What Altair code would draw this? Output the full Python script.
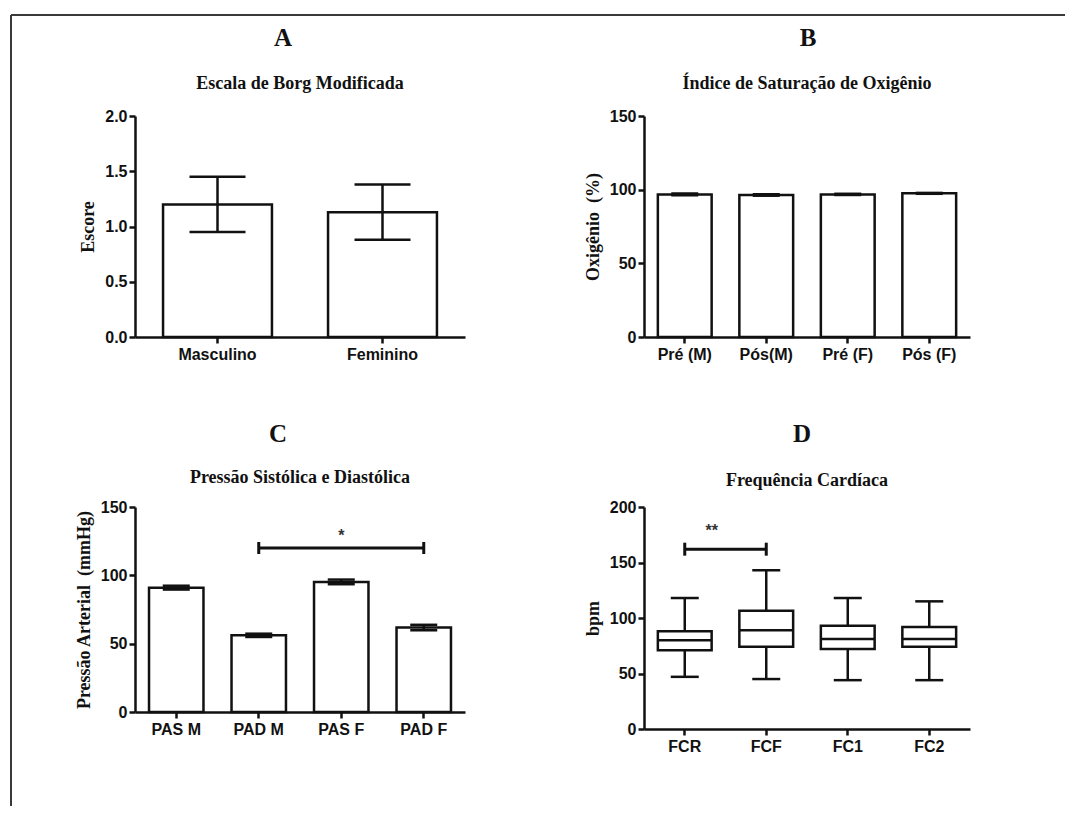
import altair as alt
import pandas as pd

SERIF = "Liberation Serif"
SANS = "Liberation Sans"
INK = "#111111"

# ---- Panel A: Escala de Borg Modificada (mean ± SEM)
A_cats = ["Masculino", "Feminino"]
A_mean = [1.20, 1.13]
A_sem = [0.25, 0.25]

# ---- Panel B: Índice de Saturação de Oxigênio
B_cats = ["Pré (M)", "Pós(M)", "Pré (F)", "Pós (F)"]
B_mean = [96.8, 96.4, 96.8, 97.5]
B_sem = [0.6, 0.5, 0.4, 0.3]

# ---- Panel C: Pressão Sistólica e Diastólica
C_cats = ["PAS M", "PAD M", "PAS F", "PAD F"]
C_mean = [91.0, 56.1, 95.2, 61.8]
C_sem = [1.4, 1.2, 1.7, 2.0]
C_sig_from = ["PAD M"]
C_sig_to = ["PAD F"]
C_sig_y = [120]
C_sig_label = ["*"]
C_sig_label_at = ["PAS F"]
C_sig_label_y = [132]

# ---- Panel D: Frequência Cardíaca (box plot)
D_cats = ["FCR", "FCF", "FC1", "FC2"]
D_min = [47, 45, 44, 44]
D_q1 = [71, 74, 72, 74]
D_med = [80, 89, 81, 81]
D_q3 = [88, 106.5, 93, 92]
D_max = [118, 143, 118, 115]
D_sig_from = ["FCR"]
D_sig_to = ["FCF"]
D_sig_y = [162]
D_sig_label = ["**"]
D_sig_label_at = ["FCR"]
D_sig_label_y = [182]

W1, W2 = 330, 326
H_TOP, H_C, H_D = 221, 205, 222
PAD_IN = 0.34
LW = 2.5


def xenc(cats, field="cat", **kw):
    return alt.X(f"{field}:N", sort=cats, title=None,
                 scale=alt.Scale(domain=cats, paddingInner=PAD_IN, paddingOuter=PAD_IN / 2), **kw)


def text_layer(txt, lx, ly, size, font=SERIF):
    return alt.Chart(pd.DataFrame({"t": [txt]})).mark_text(
        font=font, fontSize=size, fontWeight="bold", color=INK,
        align="center", baseline="middle"
    ).encode(x=alt.value(lx), y=alt.value(ly), text="t:N")


def sig_layers(cats, frm, to, yv, label, label_at, label_y, label_band, ydom, height, cap_px):
    ysc = alt.Scale(domain=ydom, nice=False)
    df = pd.DataFrame({"from": frm, "to": to, "y": yv})
    line = alt.Chart(df).mark_rule(color=INK, strokeWidth=3).encode(
        x=xenc(cats, "from", bandPosition=0.5),
        x2=alt.X2("to", bandPosition=0.5),
        y=alt.Y("y:Q", scale=ysc),
    )
    half = cap_px / 2 * (ydom[1] - ydom[0]) / height  # half cap length in data units
    ends = pd.DataFrame({"cat": frm + to, "y": yv + yv})
    caps = alt.Chart(ends).transform_calculate(
        y0=f"datum.y - {half}", y1=f"datum.y + {half}"
    ).mark_rule(color=INK, strokeWidth=3).encode(
        x=xenc(cats, bandPosition=0.5),
        y=alt.Y("y0:Q", scale=ysc),
        y2="y1:Q",
    )
    tdf = pd.DataFrame({"cat": label_at, "y": label_y, "t": label})
    txt = alt.Chart(tdf).mark_text(font=SANS, fontSize=16, fontWeight="bold", color="#333333",
                                   baseline="middle", dy=4).encode(
        x=xenc(cats, bandPosition=label_band),
        y=alt.Y("y:Q", scale=ysc),
        text="t:N",
    )
    return [line, caps, txt]


def bar_panel(cats, mean, sem, ydom, yvals, yfmt, ytitle, width, height, cap, extra=None):
    df = pd.DataFrame({
        "cat": cats,
        "mean": mean,
        "lo": [m - s for m, s in zip(mean, sem)],
        "hi": [m + s for m, s in zip(mean, sem)],
    })
    ysc = alt.Scale(domain=ydom, nice=False, zero=True)
    base = alt.Chart(df)
    bars = base.mark_bar(fill="white", stroke=INK, strokeWidth=LW).encode(
        x=xenc(cats),
        y=alt.Y("mean:Q", scale=ysc, title=ytitle,
                axis=alt.Axis(values=yvals, format=yfmt)),
    )
    stem = base.mark_rule(color=INK, strokeWidth=LW).encode(
        x=xenc(cats), y=alt.Y("lo:Q", scale=ysc, title=ytitle), y2="hi:Q")
    cap_hi = base.mark_tick(color=INK, thickness=LW, size=cap, opacity=1).encode(
        x=xenc(cats), y=alt.Y("hi:Q", scale=ysc, title=ytitle))
    cap_lo = base.mark_tick(color=INK, thickness=LW, size=cap, opacity=1).encode(
        x=xenc(cats), y=alt.Y("lo:Q", scale=ysc, title=ytitle))
    layers = [bars, stem, cap_hi, cap_lo] + (extra or [])
    return alt.layer(*layers).properties(width=width, height=height)


# Border of the figure (decoration, pixel positions relative to panel A)
border_df = pd.DataFrame({"k": [0]})
border_left = alt.Chart(border_df).mark_rule(color="#3a3a3a", strokeWidth=2).encode(
    x=alt.value(-124), y=alt.value(-101), y2=alt.value(690))
border_top = alt.Chart(border_df).mark_rule(color="#3a3a3a", strokeWidth=2).encode(
    x=alt.value(-124), x2=alt.value(930), y=alt.value(-101))

panelA = bar_panel(A_cats, A_mean, A_sem, [0, 2], [0, 0.5, 1.0, 1.5, 2.0], ".1f",
                   "Escore", W1, H_TOP, 56,
                   extra=[text_layer("A", 148, -78, 25),
                          text_layer("Escala de Borg Modificada", W1 / 2, -32, 18),
                          border_left, border_top])

panelB = bar_panel(B_cats, B_mean, B_sem, [0, 150], [0, 50, 100, 150], "d",
                   "Oxigênio\u00a0 (%)", W2, H_TOP, 27,
                   extra=[text_layer("B", 164, -78, 25),
                          text_layer("Índice de Saturação de Oxigênio", W2 / 2, -32, 18)])

panelC = bar_panel(C_cats, C_mean, C_sem, [0, 150], [0, 50, 100, 150], "d",
                   "Pressão Arterial\u00a0 (mmHg)", W1, H_C, 27,
                   extra=sig_layers(C_cats, C_sig_from, C_sig_to, C_sig_y, C_sig_label,
                                    C_sig_label_at, C_sig_label_y, 0.5, [0, 150], H_C, 12)
                   + [text_layer("C", 143, -73, 25),
                      text_layer("Pressão Sistólica e Diastólica", W1 / 2, -29, 18)])

# Panel D box plot
ddf = pd.DataFrame({"cat": D_cats, "mn": D_min, "q1": D_q1, "med": D_med, "q3": D_q3, "mx": D_max})
dsc = alt.Scale(domain=[0, 200], nice=False, zero=True)
dbase = alt.Chart(ddf)
box_w = W2 / len(D_cats) * (1 - PAD_IN)
d_whisk_lo = dbase.mark_rule(color=INK, strokeWidth=LW).encode(
    x=xenc(D_cats), y=alt.Y("mn:Q", scale=dsc, title="bpm",
                           axis=alt.Axis(values=[0, 50, 100, 150, 200], format="d")), y2="q1:Q")
d_whisk_hi = dbase.mark_rule(color=INK, strokeWidth=LW).encode(
    x=xenc(D_cats), y=alt.Y("q3:Q", scale=dsc, title="bpm"), y2="mx:Q")
d_box = dbase.mark_bar(fill="white", stroke=INK, strokeWidth=LW).encode(
    x=xenc(D_cats), y=alt.Y("q1:Q", scale=dsc, title="bpm"), y2="q3:Q")
d_med = dbase.mark_tick(color=INK, thickness=LW, size=box_w, opacity=1).encode(
    x=xenc(D_cats), y=alt.Y("med:Q", scale=dsc, title="bpm"))
d_cap_lo = dbase.mark_tick(color=INK, thickness=LW, size=28, opacity=1).encode(
    x=xenc(D_cats), y=alt.Y("mn:Q", scale=dsc, title="bpm"))
d_cap_hi = dbase.mark_tick(color=INK, thickness=LW, size=28, opacity=1).encode(
    x=xenc(D_cats), y=alt.Y("mx:Q", scale=dsc, title="bpm"))
panelD = alt.layer(
    d_whisk_lo, d_whisk_hi, d_box, d_med, d_cap_lo, d_cap_hi,
    *sig_layers(D_cats, D_sig_from, D_sig_to, D_sig_y, D_sig_label,
                D_sig_label_at, D_sig_label_y, 1.0, [0, 200], H_D, 13),
    text_layer("D", 158, -73, 25),
    text_layer("Frequência Cardíaca", W2 / 2, -26, 18),
).properties(width=W2, height=H_D)

chart = alt.concat(
    panelA, panelB, panelC, panelD,
    columns=2, spacing={"row": 170, "column": 179}, bounds="flush",
).properties(
    padding={"left": 1, "top": 5, "right": 0, "bottom": 0},
    background="white",
).configure_view(
    stroke="transparent"
).configure_axis(
    domainColor=INK, domainWidth=LW, tickColor=INK, tickWidth=LW, tickSize=6,
    labelFont=SANS, labelFontWeight="bold", labelFontSize=16, labelColor=INK,
    titleFont=SERIF, titleFontSize=18, titleFontWeight="bold", titleColor=INK,
    grid=False, labelPadding=2, titlePadding=7,
).configure_axisX(
    labelAngle=0, labelFontSize=16, labelPadding=3,
)

chart.save("out.html", embed_options={"renderer": "svg", "actions": False})
